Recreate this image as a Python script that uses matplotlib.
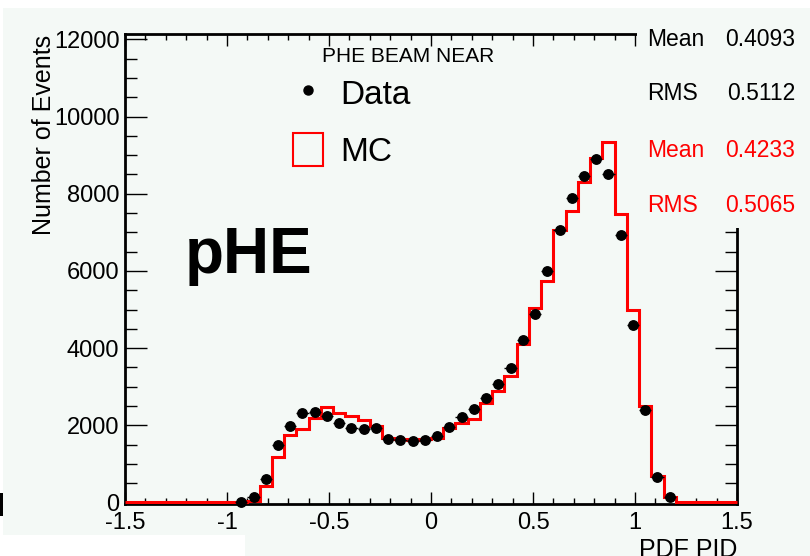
import numpy as np
import matplotlib
matplotlib.use('Agg')
import matplotlib.pyplot as plt
from matplotlib.ticker import MultipleLocator, FuncFormatter
from matplotlib.patches import Rectangle, Patch
from matplotlib.lines import Line2D

plt.rcParams['font.family'] = ['Liberation Sans', 'DejaVu Sans']
plt.rcParams['axes.unicode_minus'] = False

# 50 bins of width 0.06 from -1.5 to 1.5
bin_lo = -1.5
bin_hi = 1.5
n_bins = 50

data_counts = [0, 0, 0, 0, 0, 0, 0, 0, 0, 15,
               140, 620, 1480, 1970, 2310, 2340, 2240, 2070, 1940, 1900,
               1940, 1640, 1610, 1580, 1620, 1720, 1960, 2210, 2430, 2700,
               3060, 3490, 4210, 4880, 6000, 7050, 7880, 8460, 8900, 8510,
               6930, 4610, 2400, 650, 150, 0, 0, 0, 0, 0]

mc_counts = [0, 0, 0, 0, 0, 0, 0, 0, 0, 0,
             30, 430, 1190, 1740, 1900, 2200, 2470, 2330, 2240, 2130,
             1980, 1680, 1640, 1630, 1640, 1680, 1940, 2070, 2150, 2580,
             2890, 3270, 4110, 5040, 5740, 7050, 7560, 8310, 8930, 9350,
             7470, 4980, 2510, 690, 130, 0, 0, 0, 0, 0]

stats_data = [('Mean', '0.4093'), ('RMS', '0.5112')]
stats_mc = [('Mean', '0.4233'), ('RMS', '0.5065')]

bg = '#f4f9f6'
W, H = 810, 556

edges = np.linspace(bin_lo, bin_hi, n_bins + 1)
centers = 0.5 * (edges[:-1] + edges[1:])
data_counts = np.array(data_counts, dtype=float)
mc_counts = np.array(mc_counts, dtype=float)

fig = plt.figure(figsize=(W / 100, H / 100), dpi=100, facecolor=bg)
ax = fig.add_axes([125 / W, 52 / H, 612 / W, 470 / H])
ax.set_facecolor(bg)

# MC histogram
ax.stairs(mc_counts, edges, color='red', lw=2.2, zorder=3, clip_on=False)

# data points
m = data_counts > 0
ax.errorbar(centers[m], data_counts[m], xerr=0.03, fmt='o', color='black',
            ms=6.8, elinewidth=1, capsize=0, zorder=4, clip_on=False)

ax.set_xlim(-1.5, 1.5)
ax.set_ylim(-40, 12140)

ax.xaxis.set_major_locator(MultipleLocator(0.5))
ax.xaxis.set_minor_locator(MultipleLocator(0.1))
ax.yaxis.set_major_locator(MultipleLocator(2000))
ax.yaxis.set_minor_locator(MultipleLocator(500))
fmt = FuncFormatter(lambda v, p: '%g' % v)
ax.xaxis.set_major_formatter(fmt)
ax.yaxis.set_major_formatter(fmt)

ax.tick_params(axis='x', which='major', direction='in', length=8.6, width=1,
               top=True, labelsize=17, pad=6)
ax.tick_params(axis='x', which='minor', direction='in', length=4.3, width=1, top=True)
ax.tick_params(axis='y', which='major', direction='in', length=15.5, width=1,
               right=True, labelsize=17, pad=4)
ax.tick_params(axis='y', which='minor', direction='in', length=8.3, width=1, right=True)
for s in ax.spines.values():
    s.set_linewidth(2)

# legend
handles = [Line2D([], [], marker='o', ls='none', color='black', ms=6.5),
           Patch(facecolor='none', edgecolor='red', lw=1.5)]
ax.legend(handles, ['Data', 'MC'], loc='upper left',
          bbox_to_anchor=(293 / W, 1 - 75.5 / H), bbox_transform=fig.transFigure,
          frameon=False, fontsize=24, handlelength=0.9, handleheight=1.17,
          handletextpad=0.51, labelspacing=0.66, borderpad=0, borderaxespad=0)

fig.text(408 / W, 1 - 61.7 / H, 'PHE BEAM NEAR', ha='center', va='baseline', fontsize=15)
fig.text(185 / W, 1 - 272.7 / H, 'pHE', ha='left', va='baseline', fontsize=46,
         fontweight='bold')

fig.text(44 / W, 1 - 35 / H, 'Number of Events', rotation=90, ha='center', va='top',
         fontsize=18)
fig.text(737 / W, 1 - 538 / H, 'PDF PID', ha='right', va='top', fontsize=18)

# stats box covering the top right corner
fig.add_artist(Rectangle((637 / W, 1 - 228 / H), 173 / W, 220 / H, transform=fig.transFigure,
                         facecolor=bg, edgecolor='none', zorder=5))
baselines = [45.7, 100, 156.7, 211.7]
rows = [(k, v, 'black') for k, v in stats_data] + [(k, v, 'red') for k, v in stats_mc]
for (k, v, c), yb in zip(rows, baselines):
    fig.text(647 / W, 1 - yb / H, k, ha='left', va='baseline', fontsize=16.5, color=c, zorder=6)
    fig.text(795 / W, 1 - yb / H, v, ha='right', va='baseline', fontsize=16.5, color=c, zorder=6)

# white borders of the screenshot
fig.add_artist(Rectangle((0, 1 - 8 / H), 1, 8 / H, transform=fig.transFigure,
                         facecolor='white', edgecolor='none', zorder=7))
fig.add_artist(Rectangle((0, 0), 3 / W, 1, transform=fig.transFigure,
                         facecolor='white', edgecolor='none', zorder=7))
fig.add_artist(Rectangle((0, 0), 245 / W, 21 / H, transform=fig.transFigure,
                         facecolor='white', edgecolor='none', zorder=7))
fig.add_artist(Rectangle((0, 1 - 516 / H), 3 / W, 23 / H, transform=fig.transFigure,
                         facecolor='black', edgecolor='none', zorder=8))

fig.savefig('out.png', dpi=100, facecolor=bg)
